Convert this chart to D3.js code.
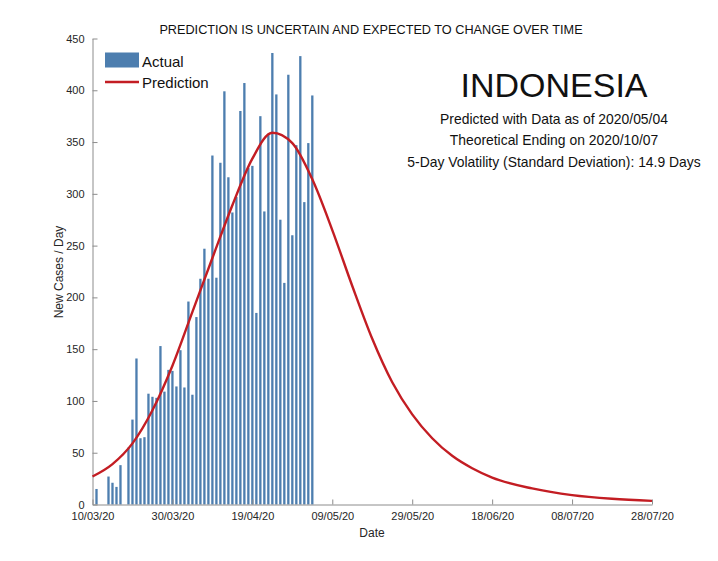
<!DOCTYPE html>
<html>
<head>
<meta charset="utf-8">
<script src="https://cdn.jsdelivr.net/npm/d3@7"></script>
<style>
  body { margin: 0; background: #fff; }
  svg { display: block; font-family: "Liberation Sans", Arial, sans-serif; }
</style>
</head>
<body>
<div id="chart"></div>
<script>
// daily new cases, one value per day starting 11/03/2020
const actualStart = "2020-03-11";
const actual = [15, 0, 0, 27, 21, 17, 38, 0, 55, 82, 141, 64, 65, 107, 104, 103, 153, 109, 130, 129,
  114, 149, 113, 196, 106, 181, 218, 247, 218, 337, 219, 330, 399, 316, 282, 297, 380, 407, 325, 327,
  185, 375, 283, 357, 436, 396, 275, 214, 415, 260, 347, 433, 292, 349, 395];

// prediction curve (days after 10/03/2020)
const predDay = [0, 5, 10, 15, 20, 25, 30, 35, 40, 45, 50, 55, 60, 65, 70,
  75, 80, 85, 90, 95, 100, 110, 120, 130, 140];
const predValue = [27, 39, 59, 91, 134, 186, 238, 289, 334, 359, 349, 314, 265, 211, 160,
  118, 87, 64, 47, 35, 26, 15.5, 9, 5.5, 3.5];

const xTickLabels = ["10/03/20", "30/03/20", "19/04/20", "09/05/20", "29/05/20", "18/06/20", "08/07/20", "28/07/20"];
const yTicks = [0, 50, 100, 150, 200, 250, 300, 350, 400, 450];

const infoLines = ["Predicted with Data as of 2020/05/04", "Theoretical Ending on 2020/10/07",
  "5-Day Volatility (Standard Deviation): 14.9 Days"];

const W = 718, H = 561;
const parseTick = d3.timeParse("%d/%m/%y");
const start = parseTick(xTickLabels[0]);
const end = parseTick(xTickLabels[xTickLabels.length - 1]);

const x = d3.scaleTime().domain([start, end]).range([92.5, 652]);
const y = d3.scaleLinear().domain([0, 450]).range([504.5, 38.5]);

const bars = actual.map((v, i) => ({ date: d3.timeDay.offset(d3.timeParse("%Y-%m-%d")(actualStart), i), value: v }));
const pred = predDay.map((d, i) => ({ date: d3.timeDay.offset(start, d), value: predValue[i] }));

const svg = d3.select("#chart").append("svg")
  .attr("width", W)
  .attr("height", H);

svg.append("rect").attr("width", W).attr("height", H).attr("fill", "#fff");

const dayW = x(d3.timeDay.offset(start, 1)) - x(start);
const barW = dayW * 0.58;

svg.append("g").selectAll("rect")
  .data(bars.filter(d => d.value > 0))
  .join("rect")
  .attr("x", d => x(d.date) - barW / 2)
  .attr("y", d => y(d.value))
  .attr("width", barW)
  .attr("height", d => y(0) - y(d.value))
  .attr("fill", "#4d7eaf");

// axes
const xAxis = d3.axisBottom(x)
  .tickValues(xTickLabels.map(parseTick))
  .tickFormat(d3.timeFormat("%d/%m/%y"))
  .tickSizeInner(-5).tickSizeOuter(0).tickPadding(8);
const yAxis = d3.axisLeft(y)
  .tickValues(yTicks)
  .tickSizeInner(-5).tickSizeOuter(0).tickPadding(8);

const gx = svg.append("g").attr("transform", `translate(0,${y(0)})`).call(xAxis);
const gy = svg.append("g").attr("transform", `translate(${x(start)},0)`).call(yAxis);
[gx, gy].forEach(g => {
  g.select(".domain").attr("stroke", "#8c8c8c");
  g.selectAll(".tick line").attr("stroke", "#8c8c8c");
  g.selectAll(".tick text").attr("fill", "#262626").style("font-size", "11px");
});

// prediction line
const line = d3.line()
  .x(d => x(d.date))
  .y(d => y(d.value))
  .curve(d3.curveMonotoneX);

svg.append("path")
  .datum(pred)
  .attr("d", line)
  .attr("fill", "none")
  .attr("stroke", "#c31d23")
  .attr("stroke-width", 2.4);

// labels
svg.append("text")
  .attr("x", 371).attr("y", 34)
  .attr("text-anchor", "middle")
  .style("font-size", "12.7px").attr("fill", "#111")
  .text("PREDICTION IS UNCERTAIN AND EXPECTED TO CHANGE OVER TIME");

svg.append("text")
  .attr("x", 372).attr("y", 537)
  .attr("text-anchor", "middle")
  .style("font-size", "12px").attr("fill", "#262626")
  .text("Date");

svg.append("text")
  .attr("transform", "translate(63,272) rotate(-90)")
  .attr("text-anchor", "middle")
  .style("font-size", "12px").attr("fill", "#262626")
  .text("New Cases / Day");

// legend
const lg = svg.append("g");
lg.append("rect").attr("x", 105).attr("y", 52.5).attr("width", 34).attr("height", 15).attr("fill", "#4d7eaf");
lg.append("text").attr("x", 142).attr("y", 67).style("font-size", "15px").attr("fill", "#111").text("Actual");
lg.append("line").attr("x1", 105).attr("x2", 139).attr("y1", 82).attr("y2", 82)
  .attr("stroke", "#c31d23").attr("stroke-width", 2.4);
lg.append("text").attr("x", 142).attr("y", 88).style("font-size", "15px").attr("fill", "#111").text("Prediction");

// country block
svg.append("text")
  .attr("x", 554).attr("y", 97)
  .attr("text-anchor", "middle")
  .style("font-size", "34px").attr("fill", "#111")
  .text("INDONESIA");

svg.append("g").selectAll("text")
  .data(infoLines)
  .join("text")
  .attr("x", 554)
  .attr("y", (d, i) => 123.5 + i * 21.7)
  .attr("text-anchor", "middle")
  .style("font-size", "13.9px").attr("fill", "#111")
  .text(d => d);
</script>
</body>
</html>
